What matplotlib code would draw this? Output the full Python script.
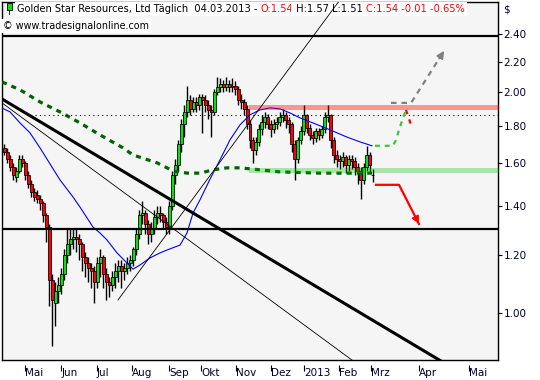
import numpy as np
import matplotlib
matplotlib.use("Agg")
import matplotlib.pyplot as plt
from matplotlib.patches import Rectangle
from matplotlib.ticker import NullLocator, NullFormatter

# candles (one candle every ~2 sessions)
opens = [1.68, 1.66, 1.62, 1.58, 1.53, 1.56, 1.62, 1.60, 1.54, 1.50,
         1.46, 1.45, 1.43, 1.41, 1.36, 1.31, 1.11, 1.03, 1.07, 1.09,
         1.13, 1.20, 1.24, 1.26, 1.27, 1.26, 1.24, 1.19, 1.17, 1.15,
         1.14, 1.10, 1.17, 1.19, 1.13, 1.10, 1.09, 1.12, 1.14, 1.16,
         1.14, 1.15, 1.17, 1.18, 1.22, 1.28, 1.36, 1.37, 1.32, 1.28,
         1.30, 1.35, 1.37, 1.36, 1.33, 1.31, 1.40, 1.54, 1.59, 1.70,
         1.81, 1.88, 1.95, 1.90, 1.94, 1.92, 1.97, 1.95, 1.92, 1.89,
         1.88, 2.00, 2.03, 2.05, 2.03, 2.05, 2.03, 2.04, 2.02, 1.95,
         1.94, 1.90, 1.81, 1.72, 1.67, 1.71, 1.78, 1.82, 1.85, 1.81,
         1.78, 1.81, 1.82, 1.85, 1.86, 1.83, 1.81, 1.70, 1.62, 1.72,
         1.77, 1.86, 1.79, 1.75, 1.73, 1.77, 1.75, 1.78, 1.85, 1.86,
         1.72, 1.64, 1.62, 1.61, 1.63, 1.59, 1.62, 1.61, 1.58, 1.56,
         1.52, 1.58, 1.64, 1.54]
closes = [1.66, 1.62, 1.58, 1.54, 1.56, 1.62, 1.60, 1.54, 1.50, 1.46,
          1.44, 1.43, 1.41, 1.36, 1.31, 1.11, 1.04, 1.07, 1.09, 1.13,
          1.20, 1.24, 1.26, 1.27, 1.26, 1.24, 1.19, 1.17, 1.15, 1.14,
          1.10, 1.17, 1.19, 1.13, 1.10, 1.09, 1.12, 1.14, 1.16, 1.14,
          1.15, 1.17, 1.18, 1.22, 1.28, 1.36, 1.37, 1.32, 1.28, 1.30,
          1.35, 1.37, 1.36, 1.33, 1.31, 1.40, 1.54, 1.59, 1.70, 1.81,
          1.88, 1.95, 1.90, 1.94, 1.92, 1.97, 1.95, 1.92, 1.89, 1.88,
          2.00, 2.03, 2.05, 2.03, 2.05, 2.03, 2.04, 2.02, 1.95, 1.94,
          1.90, 1.81, 1.72, 1.67, 1.71, 1.78, 1.82, 1.85, 1.81, 1.78,
          1.81, 1.82, 1.85, 1.86, 1.83, 1.81, 1.70, 1.62, 1.72, 1.77,
          1.86, 1.79, 1.75, 1.73, 1.77, 1.75, 1.78, 1.85, 1.86, 1.72,
          1.64, 1.62, 1.61, 1.63, 1.59, 1.62, 1.61, 1.58, 1.56, 1.52,
          1.58, 1.64, 1.59, 1.54]
highs = [1.70, 1.68, 1.64, 1.60, 1.58, 1.64, 1.64, 1.61, 1.56, 1.52,
         1.48, 1.47, 1.45, 1.42, 1.37, 1.32, 1.13, 1.10, 1.12, 1.15,
         1.22, 1.30, 1.30, 1.30, 1.30, 1.28, 1.25, 1.21, 1.19, 1.17,
         1.16, 1.19, 1.22, 1.20, 1.15, 1.12, 1.14, 1.17, 1.18, 1.18,
         1.17, 1.19, 1.20, 1.23, 1.30, 1.38, 1.42, 1.38, 1.34, 1.33,
         1.38, 1.40, 1.40, 1.37, 1.35, 1.42, 1.56, 1.62, 1.72, 1.84,
         1.92, 2.04, 1.98, 1.97, 1.97, 1.99, 1.99, 1.98, 1.95, 1.92,
         2.02, 2.10, 2.09, 2.08, 2.10, 2.08, 2.09, 2.07, 2.04, 1.99,
         1.96, 1.92, 1.83, 1.74, 1.74, 1.81, 1.86, 1.88, 1.87, 1.83,
         1.84, 1.85, 1.88, 1.90, 1.88, 1.85, 1.82, 1.72, 1.74, 1.80,
         1.92, 1.87, 1.81, 1.77, 1.79, 1.79, 1.80, 1.88, 1.92, 1.87,
         1.74, 1.67, 1.64, 1.66, 1.64, 1.64, 1.64, 1.63, 1.60, 1.58,
         1.60, 1.69, 1.66, 1.57]
lows = [1.64, 1.60, 1.56, 1.52, 1.51, 1.55, 1.58, 1.52, 1.48, 1.44,
        1.42, 1.41, 1.38, 1.33, 1.25, 1.02, 0.90, 0.96, 1.03, 1.06,
        1.11, 1.17, 1.20, 1.22, 1.21, 1.18, 1.14, 1.12, 1.10, 1.08,
        1.03, 1.08, 1.12, 1.08, 1.04, 1.05, 1.07, 1.08, 1.10, 1.08,
        1.11, 1.13, 1.14, 1.16, 1.20, 1.26, 1.32, 1.28, 1.24, 1.25,
        1.28, 1.32, 1.33, 1.30, 1.28, 1.28, 1.38, 1.50, 1.56, 1.66,
        1.74, 1.85, 1.86, 1.88, 1.88, 1.89, 1.76, 1.88, 1.84, 1.74,
        1.86, 1.98, 2.00, 2.00, 2.01, 2.00, 2.00, 1.98, 1.92, 1.90,
        1.86, 1.78, 1.68, 1.60, 1.64, 1.69, 1.75, 1.79, 1.78, 1.74,
        1.76, 1.78, 1.80, 1.82, 1.79, 1.76, 1.66, 1.52, 1.60, 1.70,
        1.75, 1.76, 1.72, 1.70, 1.71, 1.72, 1.73, 1.76, 1.82, 1.68,
        1.60, 1.58, 1.57, 1.58, 1.55, 1.56, 1.57, 1.54, 1.50, 1.43,
        1.50, 1.56, 1.55, 1.51]

# moving averages, sampled along the drawn curves (bar index, price)
ma_fast_x = [-0.67, 2, 5.33, 8.67, 12, 18.67, 23, 25.33, 29.67, 32, 34.33, 37.67,
             41, 43, 45.33, 48.67, 52, 54.33, 58.67, 61, 63, 65.33, 68.67, 72,
             75.33, 78.67, 82, 85.33, 88.67, 92, 95.33, 98.67, 103, 108.67,
             114.33, 118.67, 122.67]
ma_fast_y = [1.903, 1.880, 1.816, 1.760, 1.679, 1.518, 1.439, 1.394, 1.309, 1.285,
             1.257, 1.207, 1.169, 1.147, 1.162, 1.188, 1.207, 1.218, 1.237, 1.285,
             1.368, 1.426, 1.522, 1.617, 1.722, 1.805, 1.863, 1.892, 1.904, 1.898,
             1.874, 1.845, 1.816, 1.777, 1.737, 1.711, 1.690]
ma_slow_x = [-0.67, 5.33, 12, 18.67, 25.33, 32, 39.67, 43, 51, 56.33, 61, 65.33,
             69.67, 74.33, 78.67, 85.33, 92, 105.33, 122.67]
ma_slow_y = [2.066, 2.015, 1.940, 1.880, 1.816, 1.749, 1.679, 1.642, 1.602, 1.562,
             1.551, 1.551, 1.567, 1.577, 1.577, 1.567, 1.557, 1.551, 1.551]

# trend lines (start bar, start price, end bar, end price)
trend_thick = [-0.67, 1.958, 145.5, 0.860]
trend_thin_down = [-0.67, 1.934, 116.3, 0.860]
trend_thin_up = [38.0, 1.041, 112.0, 2.674]

# horizontal levels
level_top = 2.385
level_low = 1.30
level_dotted = 1.86
dotted_start = 10.3
resist_band = [1.89, 1.92]
support_band = [1.552, 1.578]
band_start = 81.5

# scenario sketch after the last bar
bull_x = [123.67, 129.67, 130.67, 131.67, 133.0, 134.0]
bull_y = [1.690, 1.690, 1.722, 1.777, 1.845, 1.892]
pullback_x = [134.0, 136.0]
pullback_y = [1.892, 1.788]
breakout_x = [129.0, 135.7, 146.7]
breakout_y = [1.934, 1.934, 2.278]
bear_x = [124.0, 131.67, 138.33]
bear_y = [1.495, 1.495, 1.322]

y_ticks = [1.00, 1.20, 1.40, 1.60, 1.80, 2.00, 2.20, 2.40]
x_tick_pos = [6.93, 19.1, 30.9, 42.5, 55.1, 65.8, 77.4, 89.1, 100.1, 111.8, 122.4, 138.4, 154.9]
x_tick_labels = ['Mai', 'Jun', 'Jul', 'Aug', 'Sep', 'Okt', 'Nov', 'Dez', '2013', 'Feb', 'Mrz', 'Apr', 'Mai']

plt.rcParams['font.family'] = ['DejaVu Sans']

fig = plt.figure(figsize=(5.4, 3.8), dpi=100)
ax = fig.add_axes([2 / 540, 20 / 380, 496 / 540, 358.5 / 380])
ax.set_facecolor('#f5f5f5')
ax.set_yscale('log')
ax.set_ylim(0.862, 2.66)
ax.set_xlim(-0.67, 164.67)

# candles
bars = np.arange(len(closes))
o = np.array(opens)
c = np.array(closes)
body_lo = np.minimum(o, c)
body_hi = np.maximum(o, c)
colors = np.where(c > o, '#10dd10', '#ff0000')
ax.vlines(bars, lows, highs, color='black', lw=1.0, zorder=2)
ax.bar(bars, body_hi - body_lo, bottom=body_lo, width=1.0, color=colors,
       edgecolor='black', lw=0.55, zorder=3)

# averages
ax.plot(ma_fast_x, ma_fast_y, color='#0000ff', lw=0.8, zorder=4)
ax.plot(ma_slow_x, ma_slow_y, color='#006400', lw=2.3, ls=(0, (1.6, 1.6)), zorder=4)

# trend lines
ax.plot(trend_thick[0::2], trend_thick[1::2], color='black', lw=2.2, zorder=4)
ax.plot(trend_thin_down[0::2], trend_thin_down[1::2], color='black', lw=0.6, zorder=4)
ax.plot(trend_thin_up[0::2], trend_thin_up[1::2], color='black', lw=0.6, zorder=7)

# horizontal levels
ax.axhline(level_top, color='black', lw=1.6, zorder=4)
ax.axhline(level_low, color='black', lw=1.6, zorder=4)
ax.plot([dotted_start, 170], [level_dotted, level_dotted], color='black', lw=0.8,
        ls=(0, (1, 3)), zorder=4)
ax.fill_between([band_start, 170], resist_band[0], resist_band[1], color='#ff0000',
                alpha=0.39, lw=0, zorder=5)
ax.fill_between([band_start, 170], support_band[0], support_band[1], color='#00c000',
                alpha=0.31, lw=0, zorder=5)

# scenarios
ax.plot(bull_x, bull_y, color='#33cc33', lw=1.6, ls=(0, (2.2, 2.2)), zorder=6)
ax.plot(pullback_x, pullback_y, color='#ff0000', lw=1.6, ls=(0, (2.0, 2.5)), zorder=6)
ax.plot(breakout_x, breakout_y, color='#808080', lw=1.6, ls=(0, (2.5, 2.2)), zorder=6)
ax.plot(bear_x, bear_y, color='#ff0000', lw=1.6, zorder=6)


def head(xs, ys, color):
    # short arrow along the last segment, head only
    x0 = xs[-1] - 0.15 * (xs[-1] - xs[-2])
    y0 = ys[-1] * (ys[-2] / ys[-1]) ** 0.15
    ax.annotate('', xy=(xs[-1], ys[-1]), xytext=(x0, y0),
                arrowprops=dict(arrowstyle='-|>', color=color, lw=1.2,
                                mutation_scale=11, shrinkA=0, shrinkB=0), zorder=6)


head(breakout_x, breakout_y, '#808080')
head(bear_x, bear_y, '#ff0000')

# axes cosmetics
for s in ax.spines.values():
    s.set_color('black')
    s.set_linewidth(1.0)
ax.yaxis.tick_right()
ax.set_yticks(y_ticks)
ax.set_yticklabels(['%.2f' % v for v in y_ticks])
ax.yaxis.set_minor_locator(NullLocator())
ax.yaxis.set_minor_formatter(NullFormatter())
ax.tick_params(axis='y', direction='out', length=3, width=0.8, pad=1,
               labelsize=7.5, labelcolor='#000033')
ax.set_xticks(x_tick_pos)
ax.set_xticklabels(x_tick_labels, ha='left')
ax.tick_params(axis='x', length=0, pad=5.5, labelsize=7.5, labelcolor='#000033')
ax.vlines(x_tick_pos, -0.014, -0.030, transform=ax.get_xaxis_transform(),
          clip_on=False, colors='black', lw=0.8)

fig.text(503 / 540, 1 - 10 / 380, '$', fontsize=7.5, va='center', color='#000033')

# header text
pieces = [('Golden Star Resources, Ltd Täglich  04.03.2013 - ', 'black'),
          ('O:1.54', '#ff0000'), (' H:1.57 L:1.51 ', 'black'),
          ('C:1.54 -0.01 -0.65%', '#ff0000')]
box = dict(fc='white', ec='none', pad=1.5)
t = ax.text(0.0302, 0.979, pieces[0][0], color=pieces[0][1], fontsize=7.1,
            transform=ax.transAxes, va='center', bbox=box, zorder=6)
for s, col in pieces[1:]:
    t = ax.annotate(s, xy=(1, 0), xycoords=t, color=col, fontsize=7.1,
                    va='bottom', bbox=box, zorder=6)
ax.text(0.002, 0.932, '© www.tradesignalonline.com', fontsize=6.9, color='black',
        transform=ax.transAxes, va='center', bbox=box, zorder=6)
ax.add_patch(Rectangle((0.0101, 0.975), 0.0101, 0.02, transform=ax.transAxes,
                       fc='#10dd10', ec='black', lw=0.6, zorder=7))
ax.plot([0.0151, 0.0151], [0.965, 0.999], transform=ax.transAxes, color='black',
        lw=0.6, zorder=6.5)

fig.savefig('out.png', dpi=100, facecolor='white')
